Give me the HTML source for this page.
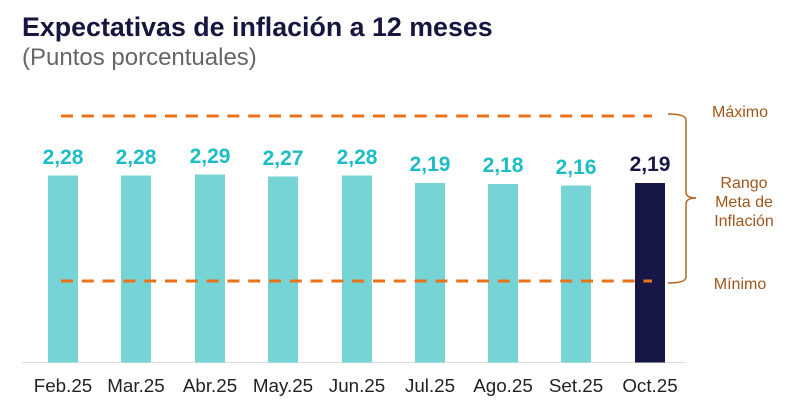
<!DOCTYPE html>
<html><head><meta charset="utf-8"><style>
body{margin:0;background:#fff;width:800px;height:411px;overflow:hidden;font-family:"Liberation Sans",sans-serif}
</style></head><body>
<svg width="800" height="411" xmlns="http://www.w3.org/2000/svg" font-family="Liberation Sans, sans-serif">
<text x="22" y="36" font-size="26.8" font-weight="bold" fill="#16163F">Expectativas de inflación a 12 meses</text>
<text x="22" y="65" font-size="24" fill="#666">(Puntos porcentuales)</text>
<line x1="22" y1="362.5" x2="686" y2="362.5" stroke="#ddd" stroke-width="1"/>
<g fill="#76D3D6">
<rect x="48" y="175.5" width="30" height="187"/>
<rect x="121" y="175.5" width="30" height="187"/>
<rect x="195" y="174.5" width="30" height="188"/>
<rect x="268" y="176.5" width="30" height="186"/>
<rect x="342" y="175.5" width="30" height="187"/>
<rect x="415" y="183" width="30" height="179.5"/>
<rect x="488" y="184" width="30" height="178.5"/>
<rect x="561" y="185.5" width="30" height="177"/>
</g>
<rect x="635" y="183" width="30" height="179.5" fill="#171745"/>
<g stroke="#E8731A" stroke-width="3" stroke-dasharray="12 8.8">
<line x1="61" y1="116" x2="652" y2="116"/>
<line x1="61" y1="281" x2="652" y2="281"/>
</g>
<path d="M668 114 Q686 114 686 120 L686 192 Q686 198 696 198 Q686 198 686 204 L686 277 Q686 283 668 283" fill="none" stroke="#B5651D" stroke-width="1.5"/>
<g font-size="16" fill="#A0561A" text-anchor="middle">
<text x="740" y="117">Máximo</text>
<text x="744" y="188">Rango</text>
<text x="744" y="207">Meta de</text>
<text x="744" y="226">Inflación</text>
<text x="740" y="289">Mínimo</text>
</g>
<g font-size="21" font-weight="bold" fill="#1DBDC6" text-anchor="middle">
<text x="63" y="164">2,28</text><text x="136" y="164">2,28</text><text x="210" y="163">2,29</text>
<text x="283" y="165">2,27</text><text x="357" y="164">2,28</text><text x="430" y="171">2,19</text>
<text x="503" y="172">2,18</text><text x="576" y="174">2,16</text>
</g>
<text x="650" y="171" font-size="21" font-weight="bold" fill="#171745" text-anchor="middle">2,19</text>
<g font-size="18.8" fill="#222" text-anchor="middle">
<text x="63" y="392">Feb.25</text><text x="136" y="392">Mar.25</text><text x="210" y="392">Abr.25</text>
<text x="283" y="392">May.25</text><text x="357" y="392">Jun.25</text><text x="430" y="392">Jul.25</text>
<text x="503" y="392">Ago.25</text><text x="576" y="392">Set.25</text><text x="650" y="392">Oct.25</text>
</g>
</svg>
</body></html>
